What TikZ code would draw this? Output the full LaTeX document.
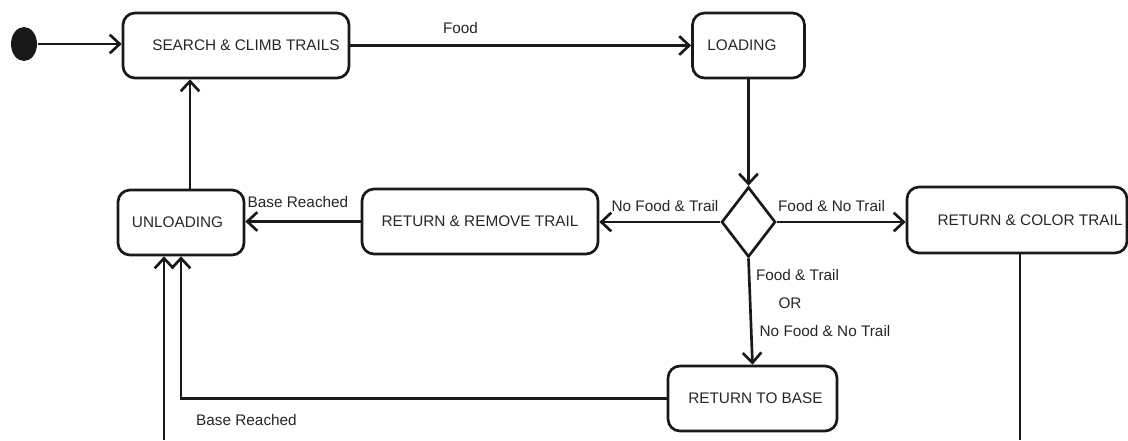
\documentclass[tikz,border=0pt]{standalone}
\usepackage{fontspec}
\setmainfont{Liberation Sans}
\usetikzlibrary{arrows.meta,shapes.geometric}
\tikzset{
  state/.style={draw=black!90,rounded corners=9pt,inner sep=0pt},
  sz/.style 2 args={minimum width=#1*0.75pt,minimum height=#2*0.75pt},
  arr/.style={draw=black!90,-{Straight Barb[length=7.5pt,width=14pt]}},
  lbl/.style={inner sep=0pt}
}
\begin{document}
\begin{tikzpicture}[x=0.75pt,y=-0.75pt,line width=2pt,
  every node/.style={font=\fontsize{11.5}{13}\selectfont,text=black!85}]
\useasboundingbox (0,0) rectangle (1128,440);
% states
\node[ellipse,fill=black!90,draw=none,sz={26}{34},inner sep=0pt] (init) at (24,44) {};
\node[state,sz={226}{65},label={[xshift=7.5pt]center:SEARCH \& CLIMB TRAILS}] (search) at (236,45.5) {};
\node[state,sz={112}{65},label={[xshift=-4.9pt]center:LOADING}] (loading) at (748.5,45.5) {};
\node[diamond,draw=black!90,sz={54}{70},inner sep=0pt] (dec) at (748.5,222) {};
\node[state,sz={236}{65}] (remove) at (480,221.5) {RETURN \& REMOVE TRAIL};
\node[state,sz={220}{66},label={[xshift=9.75pt]center:RETURN \& COLOR TRAIL}] (color) at (1017,220) {};
\node[state,sz={126}{65},label={[xshift=-2.6pt]center:UNLOADING}] (unload) at (181,222.5) {};
\node[state,sz={169}{65},label={[xshift=2.2pt]center:RETURN TO BASE}] (base) at (752.5,398.5) {};
\coordinate (b1) at (164,440);
\coordinate (b2) at (1020,440);
% connectors
\draw[arr] (init.east) -- (init.east -| search.west);
\draw[arr] (search.east) -- (loading.west);
\draw[arr] (loading.south) -- (dec.north);
\draw[arr] (dec.west) -- (dec.west -| remove.east);
\draw[arr] (dec.east) -- (dec.east -| color.west);
\draw[arr] (dec.south) -- (base.north);
\draw[arr] (remove.west) -- (remove.west -| unload.east);
\draw[arr] ([xshift=6.75pt]unload.north) -- ([xshift=6.75pt]unload.north |- search.south);
\draw[arr] (base.west) -| (unload.south);
\draw[arr] (b1) -- (b1 |- unload.south);
\draw[draw=black!90] (b2 |- color.south) -- (b2);
% labels
\node[lbl] (lfood) at (460.5,28) {Food};
\node[lbl] (lnft) at (665,206) {No Food \& Trail};
\node[lbl] (lfnt) at (831.5,206) {Food \& No Trail};
\node[lbl] (lft) at (797.5,275) {Food \& Trail};
\node[lbl] (lor) at (790,303) {OR};
\node[lbl] (lnfnt) at (825,331) {No Food \& No Trail};
\node[lbl] (lbr1) at (298,202) {Base Reached};
\node[lbl] (lbr2) at (246.5,420) {Base Reached};
\end{tikzpicture}
\end{document}
